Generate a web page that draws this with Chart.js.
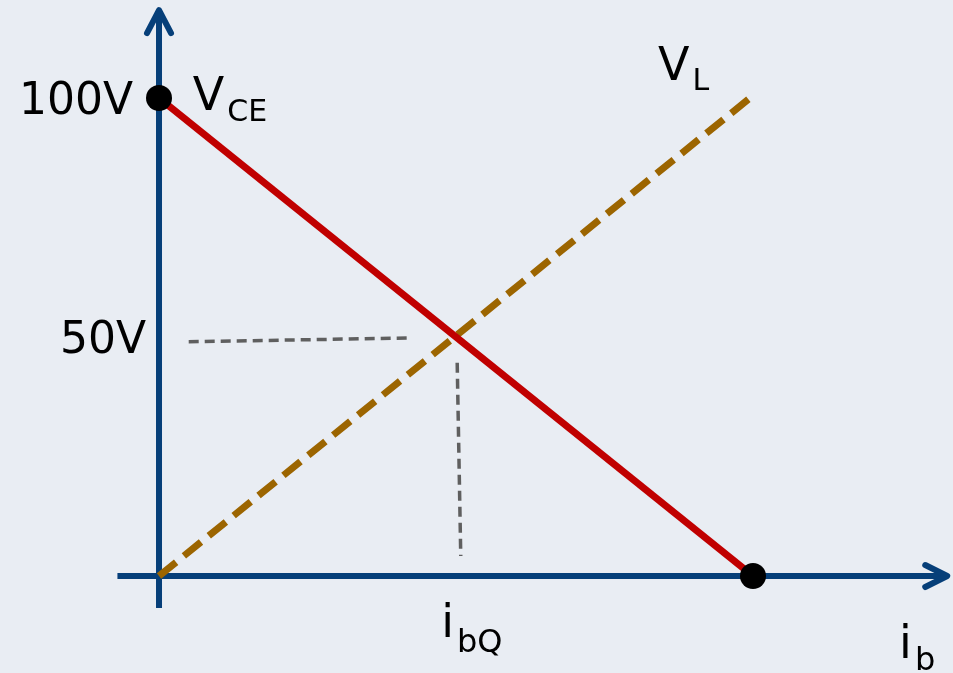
<!DOCTYPE html>
<html>
<head>
<meta charset="utf-8">
<script src="https://cdn.jsdelivr.net/npm/chart.js@4/dist/chart.umd.min.js"></script>
<style>
  html, body { margin: 0; padding: 0; background: #e9edf3; }
  #wrap { width: 953px; height: 673px; }
</style>
</head>
<body>
<div id="wrap"><canvas id="loadChart" width="953" height="673"></canvas></div>
<script>
// ---- data (i_b normalised so the load line ends at 1, voltage in V) ----
const vceX = [0, 1];
const vceY = [100, 0];
const vlX = [0, 0.995];
const vlY = [0, 100];
const guideHX = [0.05, 0.42];
const guideHY = [49, 49.8];
const guideVX = [0.502, 0.508];
const guideVY = [44.6, 4.2];
const dotX = [0, 1];
const dotY = [100, 0];
const tickValues = [50, 100];
const tickLabels = ['50V', '100V'];

const toPoints = (xs, ys) => xs.map((x, i) => ({ x, y: ys[i] }));

const FONT = '"DejaVu Sans", sans-serif';
const AXIS_COLOR = '#063f79';
const TICK_GAP = [13, 26]; // px between axis and each tick label

// axes with arrow heads, drawn under the datasets
const axesPlugin = {
  id: 'axes',
  beforeDatasetsDraw(chart) {
    const { ctx, scales: { x, y } } = chart;
    const x0 = x.getPixelForValue(0), y0 = y.getPixelForValue(0);
    ctx.save();
    ctx.strokeStyle = AXIS_COLOR;
    ctx.lineWidth = 6;
    ctx.lineCap = 'butt';
    // vertical axis
    const yTop = y.getPixelForValue(118.4), yBot = y.getPixelForValue(-6.7);
    ctx.beginPath();
    ctx.moveTo(x0, yBot);
    ctx.lineTo(x0, yTop + 2);
    ctx.stroke();
    // horizontal axis
    const xL = x.getPixelForValue(-0.07), xR = x.getPixelForValue(1.327);
    ctx.beginPath();
    ctx.moveTo(xL, y0);
    ctx.lineTo(xR - 2, y0);
    ctx.stroke();
    // arrow heads
    ctx.lineCap = 'round';
    ctx.lineJoin = 'round';
    ctx.beginPath();
    ctx.moveTo(x0 - 12, yTop + 23);
    ctx.lineTo(x0, yTop);
    ctx.lineTo(x0 + 12, yTop + 23);
    ctx.stroke();
    ctx.beginPath();
    ctx.moveTo(xR - 22, y0 - 11);
    ctx.lineTo(xR, y0);
    ctx.lineTo(xR - 22, y0 + 11);
    ctx.stroke();
    ctx.restore();
  }
};

// text labels placed in data coordinates
const textLabels = [
  { x: 0.057, y: 97.5, main: 'V', sub: 'CE', size: 46, subSize: 30, subDrop: 11 },
  { x: 0.84, y: 103.8, main: 'V', sub: 'L', size: 46, subSize: 30, subDrop: 10 },
  { x: 0.475, y: -12.8, main: 'i', sub: 'bQ', size: 46, subSize: 32, subDrop: 15 },
  { x: 1.246, y: -17.2, main: 'i', sub: 'b', size: 46, subSize: 32, subDrop: 12 }
];

const labelsPlugin = {
  id: 'labels',
  afterDatasetsDraw(chart) {
    const { ctx, scales: { x, y } } = chart;
    ctx.save();
    ctx.fillStyle = '#000';
    ctx.textBaseline = 'alphabetic';
    // y tick labels
    ctx.textAlign = 'right';
    ctx.font = `44px ${FONT}`;
    tickValues.forEach((v, i) => {
      ctx.fillText(tickLabels[i], x.getPixelForValue(0) - TICK_GAP[i], y.getPixelForValue(v) + 16);
    });
    // symbol labels with subscripts
    ctx.textAlign = 'left';
    textLabels.forEach(l => {
      const px = x.getPixelForValue(l.x), py = y.getPixelForValue(l.y);
      ctx.font = `${l.size}px ${FONT}`;
      ctx.fillText(l.main, px, py);
      const w = ctx.measureText(l.main).width;
      ctx.font = `${l.subSize}px ${FONT}`;
      ctx.fillText(l.sub, px + w + 3, py + l.subDrop);
    });
    ctx.restore();
  }
};

new Chart(document.getElementById('loadChart'), {
  type: 'scatter',
  data: {
    datasets: [
      {
        label: 'dots',
        data: toPoints(dotX, dotY),
        backgroundColor: '#000',
        borderColor: '#000',
        pointRadius: 13,
        borderWidth: 0,
        showLine: false,
        order: 0
      },
      {
        label: 'VCE',
        data: toPoints(vceX, vceY),
        showLine: true,
        borderColor: '#c00000',
        borderWidth: 7,
        pointRadius: 0,
        order: 1
      },
      {
        label: 'VL',
        data: toPoints(vlX, vlY),
        showLine: true,
        borderColor: '#9c6500',
        borderWidth: 7,
        borderDash: [22, 10],
        borderCapStyle: 'butt',
        pointRadius: 0,
        order: 2
      },
      {
        label: 'guide h',
        data: toPoints(guideHX, guideHY),
        showLine: true,
        borderColor: '#5f5f5f',
        borderWidth: 3.5,
        borderDash: [10, 6],
        pointRadius: 0,
        order: 3
      },
      {
        label: 'guide v',
        data: toPoints(guideVX, guideVY),
        showLine: true,
        borderColor: '#5f5f5f',
        borderWidth: 3.5,
        borderDash: [10, 6],
        pointRadius: 0,
        order: 3
      }
    ]
  },
  options: {
    responsive: false,
    animation: false,
    layout: { padding: 0, autoPadding: false },
    plugins: {
      legend: { display: false },
      tooltip: { enabled: false }
    },
    scales: {
      x: { type: 'linear', display: false, min: -0.2677, max: 1.3367 },
      y: { type: 'linear', display: false, min: -20.29, max: 120.5 }
    }
  },
  plugins: [axesPlugin, labelsPlugin]
});
</script>
</body>
</html>
